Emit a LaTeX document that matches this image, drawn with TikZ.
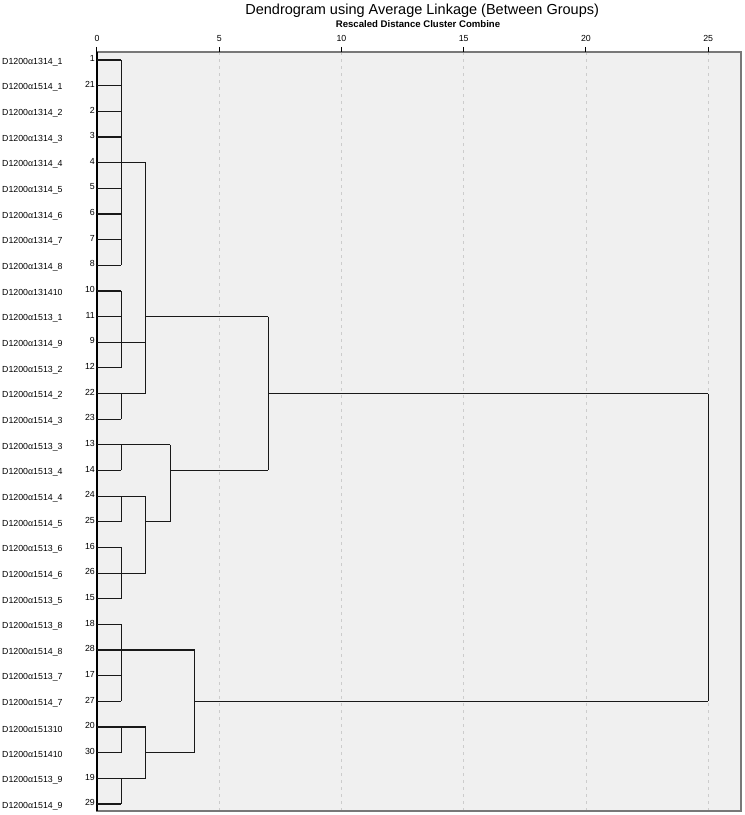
\documentclass[tikz,border=0pt]{standalone}
\usepackage{fontspec}
\setmainfont{Liberation Sans}
\definecolor{plotbg}{HTML}{F0F0F0}
\definecolor{gridgray}{HTML}{CCCCCC}
\definecolor{framegray}{HTML}{787878}

\begin{document}
\begin{tikzpicture}[x=24.45pt,y=-25.655pt,
    leafname/.style={anchor=west,inner sep=0pt,font=\fontsize{8.8}{10}\selectfont},
    leafid/.style={anchor=east,inner sep=0pt,font=\fontsize{8.8}{10}\selectfont},
    tick/.style={inner sep=0pt,font=\fontsize{8.8}{10}\selectfont},
    frame/.style={draw=framegray,line width=1.6pt},
    grid line/.style={gridgray,line width=0.6pt,dash pattern=on 3pt off 4pt},
    link/.style={black!90,line width=1.2pt}]
  \useasboundingbox (-3.967,-1.3387) rectangle (26.503,30.429);
  % Set up the frame and the scale
  \fill[plotbg] (0,0.688) rectangle (26.34,30.273);
  \foreach \t in {5,10,...,25}
    \draw[grid line] (\t,0.688) -- (\t,30.273);
  \draw[frame] (0,0.688) rectangle (26.34,30.273);
  \draw[black,line width=1.4pt] (0,0.688) -- (0,30.273);
  \foreach \t in {0,5,...,25} {
    \draw[black,line width=1pt] (\t,0.49) -- (\t,0.688);
    \node[tick] (tick\t) at (\t,0.15) {\t};
  }
  \node[font=\fontsize{14.5}{17}\selectfont] (title) at (13.3,-0.91)
    {Dendrogram using Average Linkage (Between Groups)};
  \node[font=\bfseries\fontsize{9.6}{11}\selectfont] (subtitle) at (13.13,-0.40)
    {Rescaled Distance Cluster Combine};
  % Leaves, top to bottom
  \foreach \nm/\id [count=\r] in {
      D1200α1314\_1/1, D1200α1514\_1/21, D1200α1314\_2/2, D1200α1314\_3/3,
      D1200α1314\_4/4, D1200α1314\_5/5, D1200α1314\_6/6, D1200α1314\_7/7,
      D1200α1314\_8/8, D1200α131410/10, D1200α1513\_1/11, D1200α1314\_9/9,
      D1200α1513\_2/12, D1200α1514\_2/22, D1200α1514\_3/23, D1200α1513\_3/13,
      D1200α1513\_4/14, D1200α1514\_4/24, D1200α1514\_5/25, D1200α1513\_6/16,
      D1200α1514\_6/26, D1200α1513\_5/15, D1200α1513\_8/18, D1200α1514\_8/28,
      D1200α1513\_7/17, D1200α1514\_7/27, D1200α151310/20, D1200α151410/30,
      D1200α1513\_9/19, D1200α1514\_9/29} {
    \node[leafname] (name\r) at (-3.885,\r+0.08) {\nm};
    \node[leafid] (id\r) at (-0.08,\r-0.05) {\id};
    \draw[link] (0,\r) -- (1,\r);
  }
  % Vertical joins: distance/first row/last row
  \foreach \x/\a/\b in {1/1/9, 1/10/13, 1/14/15, 1/16/17, 1/18/19, 1/20/22,
      1/23/26, 1/27/28, 1/29/30, 2/5/14, 2/18/21, 2/27/29, 3/16/19,
      4/24/28, 7/11/17, 25/14/26}
    \draw[link] (\x,\a) -- (\x,\b);
  % Horizontal links: from/to/row
  \foreach \a/\b/\r in {1/2/5, 1/2/12, 1/2/14, 2/7/11, 1/3/16, 1/2/18,
      1/2/21, 2/3/19, 3/7/17, 7/25/14, 1/4/24, 1/2/27, 1/2/29, 2/4/28,
      4/25/26}
    \draw[link] (\a,\r) -- (\b,\r);
\end{tikzpicture}
\end{document}
